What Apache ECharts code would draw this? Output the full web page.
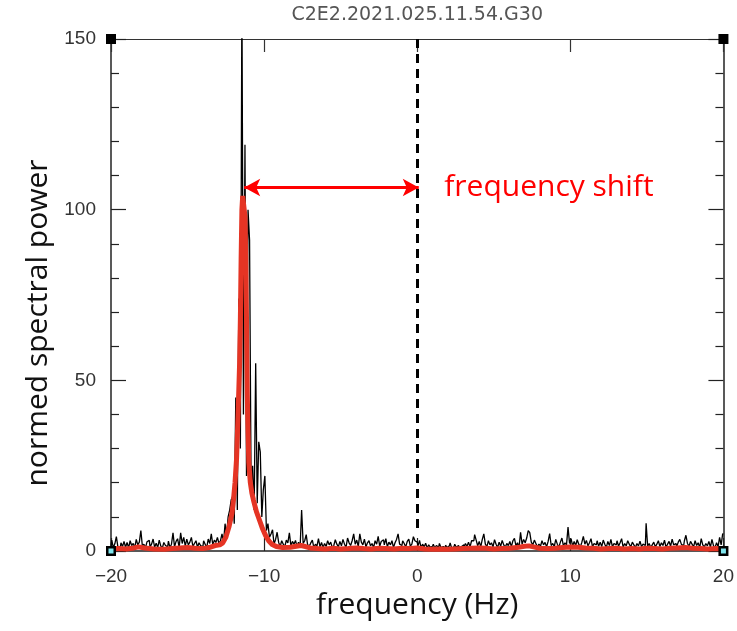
<!DOCTYPE html>
<html>
<head>
<meta charset="utf-8">
<script src="https://cdn.jsdelivr.net/npm/echarts@6/dist/echarts.min.js"></script>
<style>html,body{margin:0;padding:0;background:#fff;}#c{width:737px;height:631px;}</style>
</head>
<body>
<div id="c"></div>
<script>
// ---- data ----
const TITLE = 'C2E2.2021.025.11.54.G30';
const X_NAME = 'frequency (Hz)';
const Y_NAME = 'normed spectral power';
const SHIFT_LABEL = 'frequency shift';
const FREQ_START = -20;
const FREQ_STEP = 0.1;
const xTicks = [-20, -10, 0, 10, 20];
const yTicks = [0, 50, 100, 150];
// raw spectral power, one value per 0.1 Hz from -20 to 20
const rawPower = [
  1.5, 3.2, 1.0, 2.1, 4.2, 1.2, 0.8, 2.4, 1.3, 2.8,   // -20
  1.1, 2.5, 0.9, 3.0, 1.6, 2.2, 1.0, 3.4, 1.8, 2.6,   // -19
  6.0, 1.4, 2.0, 0.9, 2.7, 3.1, 1.2, 2.0, 3.5, 1.1,   // -18
  2.3, 1.0, 3.2, 1.5, 0.8, 2.5, 1.7, 1.2, 2.9, 1.0,   // -17
  2.0, 5.3, 1.2, 2.8, 3.6, 1.0, 5.3, 2.2, 4.0, 1.5,   // -16
  3.5, 1.8, 2.6, 4.0, 1.3, 2.2, 3.0, 1.1, 2.4, 1.6,   // -15
  1.2, 3.0, 2.0, 1.0, 3.5, 2.2, 5.0, 1.8, 3.2, 2.5,   // -14
  4.0, 2.2, 3.0, 5.0, 2.5, 8.0, 4.5, 10.0, 12.0, 15.0, // -13
  16, 8, 45, 12, 74, 30, 165, 40, 119, 22,            // -12
  100, 91, 18, 25, 12, 55, 14, 32, 29, 10,            // -11
  18, 22, 6, 8, 4, 5, 6.2, 2.0, 3.4, 5.5,             // -10
  2.5, 1.4, 3.0, 2.0, 1.2, 3.2, 2.4, 5.3, 1.5, 2.8,   // -9
  2.0, 3.1, 1.3, 2.6, 1.0, 12.0, 2.2, 3.0, 4.8, 1.5,  // -8
  1.8, 2.4, 3.2, 1.0, 2.0, 1.4, 3.6, 1.2, 2.5, 1.0,   // -7
  2.2, 1.3, 3.0, 1.8, 2.6, 1.0, 1.6, 3.3, 2.0, 1.2,   // -6
  2.8, 1.5, 3.4, 2.0, 1.1, 3.8, 2.4, 1.6, 3.0, 5.0,   // -5
  2.0, 3.2, 1.3, 5.0, 2.6, 1.8, 3.5, 1.2, 2.4, 3.0,   // -4
  1.5, 2.2, 1.0, 3.0, 2.0, 4.3, 1.4, 2.8, 3.3, 1.8,   // -3
  3.6, 1.2, 2.6, 1.8, 3.0, 1.0, 2.4, 3.4, 5.0, 2.0,   // -2
  1.6, 3.0, 2.2, 1.2, 2.8, 3.5, 1.4, 2.0, 4.2, 3.0,   // -1
  2.6, 1.5, 3.1, 1.0, 2.0, 1.2, 2.3, 0.9, 1.8, 1.1,   // 0
  1.4, 2.0, 0.8, 1.6, 1.1, 2.2, 1.0, 1.3, 0.9, 1.7,   // 1
  1.0, 1.5, 2.4, 0.8, 1.2, 2.0, 1.1, 1.6, 0.9, 1.3,   // 2
  1.8, 1.0, 2.2, 1.3, 2.6, 1.2, 3.0, 3.0, 4.8, 3.2,   // 3
  1.5, 2.8, 1.2, 3.4, 5.0, 2.0, 1.3, 3.0, 1.8, 2.4,   // 4
  1.2, 3.3, 2.0, 1.0, 2.6, 1.4, 3.1, 1.8, 1.1, 2.2,   // 5
  1.6, 2.8, 1.3, 3.0, 3.7, 1.5, 2.4, 1.0, 5.5, 2.0,   // 6
  3.4, 2.4, 3.8, 6.0, 5.4, 2.6, 1.8, 3.2, 2.2, 1.2,   // 7
  2.0, 1.4, 3.0, 1.8, 2.5, 1.2, 2.8, 5.1, 1.6, 2.2,   // 8
  1.3, 3.4, 2.0, 1.1, 2.6, 3.8, 1.5, 2.4, 1.8, 7.0,   // 9
  2.2, 3.6, 1.4, 2.8, 1.6, 3.3, 2.0, 1.2, 2.5, 4.3,   // 10
  2.0, 3.1, 1.5, 2.4, 3.6, 1.2, 2.2, 1.8, 3.0, 1.4,   // 11
  2.6, 1.3, 3.2, 2.0, 1.0, 2.8, 1.6, 3.4, 1.2, 2.2,   // 12
  1.8, 3.0, 1.4, 2.4, 3.6, 1.1, 2.2, 1.5, 3.0, 2.0,   // 13
  1.2, 2.6, 1.8, 1.0, 2.2, 1.5, 2.9, 1.3, 2.0, 1.6,   // 14
  8.1, 1.4, 2.2, 1.0, 1.8, 2.6, 1.2, 2.0, 3.0, 1.3,   // 15
  2.4, 1.6, 3.2, 1.1, 2.0, 2.8, 1.4, 3.5, 1.8, 2.2,   // 16
  1.3, 2.6, 3.4, 2.0, 1.5, 3.0, 4.6, 2.2, 1.4, 2.8,   // 17
  2.0, 1.2, 3.0, 1.6, 2.4, 1.0, 3.6, 1.8, 1.2, 2.2,   // 18
  1.5, 2.8, 1.1, 3.4, 1.6, 1.0, 2.4, 1.3, 4.0, 1.8,   // 19
  5.0                                                 // 20
];
// smoothed spectrum (red)
const smoothFreq = [-20,-19.5,-19,-18.5,-18.2,-17.8,-17.2,-16.5,-16,-15.5,-15,-14.5,-14,-13.6,-13.2,-12.9,-12.7,-12.5,-12.3,-12.1,-12.0,-11.9,-11.8,-11.7,-11.6,-11.55,-11.5,-11.45,-11.4,-11.3,-11.25,-11.2,-11.15,-11.1,-11.05,-11.0,-10.9,-10.8,-10.7,-10.5,-10.3,-10.1,-9.9,-9.7,-9.5,-9.2,-8.8,-8.3,-7.9,-7.6,-7.3,-7.0,-6.5,-6,-5.5,-5,-4.5,-4,-3.5,-3,-2.5,-2,-1.5,-1,-0.5,0,0.5,1,1.5,2,2.5,3,3.5,4,4.5,5,5.5,6,6.5,7,7.3,7.6,8,8.5,9,9.5,10,10.5,11,11.5,12,12.5,13,13.5,14,14.5,15,15.5,16,16.5,17,17.5,18,18.5,19,19.5,20];
const smoothPower = [0.6,0.7,0.6,0.9,1.2,0.9,0.6,0.5,0.7,0.9,1.0,0.8,0.7,1.0,1.6,1.8,2.4,4,7,11,15,20,27,40,55,68,86,100,104,104,98,86,68,46,35,26,20,17,15,11.5,9,6.5,4.5,3,2,1.3,1.0,1.1,1.4,1.6,1.3,0.9,0.7,0.6,0.8,0.6,0.7,0.9,0.7,0.6,0.8,0.7,0.6,0.8,0.7,0.9,0.6,0.5,0.6,0.5,0.6,0.7,0.8,0.9,0.8,0.6,0.7,0.8,1.0,1.4,1.5,1.2,0.8,0.7,0.8,1.0,1.2,1.1,0.9,0.8,0.6,0.7,0.8,0.6,0.7,0.6,0.8,0.7,0.6,0.8,0.9,1.0,0.8,0.7,0.6,0.7,0.6];
// annotations
const shiftFrom = -11.3;   // peak of the smoothed spectrum (Hz)
const shiftTo = 0.1;       // nominal frequency (Hz)
const shiftLevel = 106.5;  // arrow height
const refFreq = 0;         // dashed reference line
const refTop = 150, refBottom = 5;
const labelFreq = 1.5;

// ---- build ----
const blackData = rawPower.map((v, i) => [+(FREQ_START + i * FREQ_STEP).toFixed(2), v]);
const redData = smoothFreq.map((f, i) => [f, smoothPower[i]]);
const fmtX = v => (v < 0 ? '\u2212' : '') + Math.abs(v);

const chart = echarts.init(document.getElementById('c'), null, {renderer: 'canvas'});
const axisLineStyle = {color: '#222', width: 1.5};
const tickFont = {fontFamily: 'Liberation Sans', fontSize: 19, color: '#333'};

chart.setOption({
  animation: false,
  backgroundColor: '#fff',
  grid: {left: 111, right: 12, top: 39, bottom: 80},
  xAxis: [
    {
      type: 'value', min: xTicks[0], max: xTicks[xTicks.length - 1], interval: 10,
      position: 'bottom',
      name: X_NAME, nameLocation: 'middle', nameGap: 37,
      nameTextStyle: {fontFamily: 'Open Sans', fontSize: 30, color: '#111'},
      axisLine: {show: true, onZero: false, lineStyle: axisLineStyle},
      axisTick: {show: true, inside: true, length: 13, lineStyle: {color: '#222', width: 1.2}},
      axisLabel: Object.assign({margin: 16, formatter: fmtX}, tickFont),
      splitLine: {show: false}
    },
    {
      type: 'value', min: xTicks[0], max: xTicks[xTicks.length - 1], interval: 10,
      position: 'top',
      name: TITLE, nameLocation: 'middle', nameGap: 14,
      nameTextStyle: {fontFamily: 'DejaVu Sans', fontSize: 19, color: '#555'},
      axisLine: {show: true, onZero: false, lineStyle: {color: '#333', width: 1.2}},
      axisTick: {show: true, inside: true, length: 13, lineStyle: {color: '#333', width: 1.2}},
      axisLabel: {show: false},
      splitLine: {show: false}
    }
  ],
  yAxis: [
    {
      type: 'value', min: yTicks[0], max: yTicks[yTicks.length - 1], interval: 50,
      position: 'left',
      axisLine: {show: true, onZero: false, lineStyle: axisLineStyle},
      axisTick: {show: true, inside: true, length: 15, lineStyle: {color: '#222', width: 1.2}},
      minorTick: {show: true, splitNumber: 5, length: 8, lineStyle: {color: '#222', width: 1.2}},
      axisLabel: Object.assign({margin: 15}, tickFont),
      splitLine: {show: false}, minorSplitLine: {show: false}
    },
    {
      type: 'value', min: yTicks[0], max: yTicks[yTicks.length - 1], interval: 50,
      position: 'right',
      axisLine: {show: true, onZero: false, lineStyle: axisLineStyle},
      axisTick: {show: true, inside: true, length: 15, lineStyle: {color: '#222', width: 1.2}},
      minorTick: {show: true, splitNumber: 5, length: 8, lineStyle: {color: '#222', width: 1.2}},
      axisLabel: {show: false},
      splitLine: {show: false}, minorSplitLine: {show: false}
    }
  ],
  graphic: [{
    type: 'text', x: 38, y: 323, rotation: Math.PI / 2,
    style: {text: Y_NAME, font: '30px "Open Sans"', fill: '#111', textAlign: 'center', textVerticalAlign: 'middle'}
  }],
  series: [
    {
      name: 'raw', type: 'line', data: blackData, step: 'middle',
      symbol: 'none', clip: true,
      lineStyle: {color: '#000', width: 1.3},
      z: 2,
      markLine: {
        silent: true, symbol: 'none', animation: false,
        label: {show: false},
        lineStyle: {color: '#000', width: 3, type: [9, 6]},
        data: [[{coord: [refFreq, refTop]}, {coord: [refFreq, refBottom]}]]
      }
    },
    {
      name: 'smooth', type: 'line', data: redData,
      symbol: 'none', clip: true,
      lineStyle: {color: '#e53424', width: 5},
      z: 3,
      markLine: {
        silent: true, animation: false,
        symbol: ['arrow', 'arrow'], symbolSize: [13, 16],
        label: {show: false},
        lineStyle: {color: '#ff0000', width: 3, type: 'solid'},
        data: [[{coord: [shiftFrom, shiftLevel]}, {coord: [shiftTo, shiftLevel]}]]
      },
      markPoint: {
        silent: true, animation: false,
        data: [
          {coord: [labelFreq, shiftLevel], symbol: 'circle', symbolSize: 0,
           label: {show: true, position: 'right', distance: 4, formatter: SHIFT_LABEL,
                   fontFamily: 'Open Sans', fontSize: 30, color: '#ff0000'}},
          {coord: [xTicks[0], yTicks[3]], symbol: 'rect', symbolSize: 10, itemStyle: {color: '#000'}, label: {show: false}},
          {coord: [xTicks[4], yTicks[3]], symbol: 'rect', symbolSize: 10, itemStyle: {color: '#000'}, label: {show: false}},
          {coord: [xTicks[0], yTicks[0]], symbol: 'rect', symbolSize: 10, itemStyle: {color: '#000'}, label: {show: false}},
          {coord: [xTicks[4], yTicks[0]], symbol: 'rect', symbolSize: 10, itemStyle: {color: '#000'}, label: {show: false}},
          {coord: [xTicks[0], yTicks[0]], symbol: 'rect', symbolSize: 5, itemStyle: {color: '#7fe6ee'}, label: {show: false}},
          {coord: [xTicks[4], yTicks[0]], symbol: 'rect', symbolSize: 5, itemStyle: {color: '#7fe6ee'}, label: {show: false}}
        ]
      }
    }
  ]
});
</script>
</body>
</html>
